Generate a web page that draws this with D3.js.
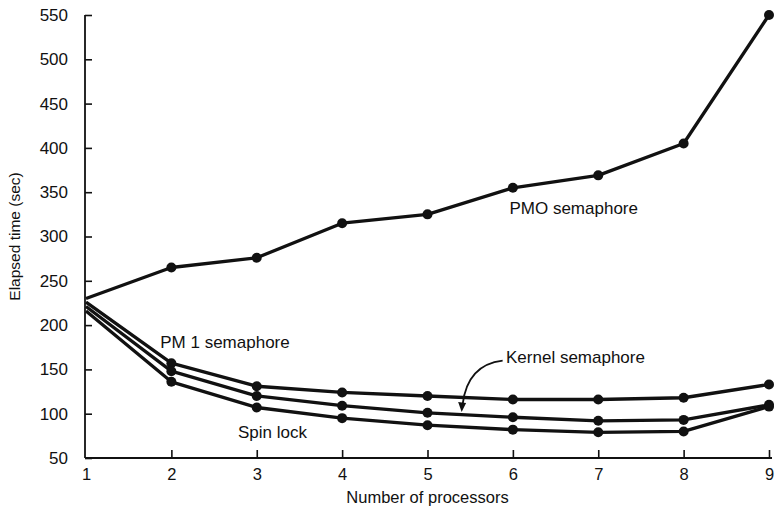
<!DOCTYPE html>
<html>
<head>
<meta charset="utf-8">
<script src="https://cdn.jsdelivr.net/npm/d3@7"></script>
<style>
  body { margin: 0; background: #fff; }
  svg { display: block; }
  text { font-family: "Liberation Sans", Arial, Helvetica, sans-serif; fill: #111; }
</style>
</head>
<body>
<svg id="chart" width="776" height="511"></svg>
<script>
// Number of processors
const processors = [1, 2, 3, 4, 5, 6, 7, 8, 9];

// Elapsed time (sec) for each synchronisation method
const pmoSemaphore    = [230, 265, 276, 315, 325, 355, 369, 405, 550];
const pm1Semaphore    = [226, 157, 131, 124, 120, 116, 116, 118, 133];
const kernelSemaphore = [221, 148, 120, 109, 101,  96,  92,  93, 110];
const spinLock        = [216, 136, 107,  95,  87,  82,  79,  80, 108];

const yTicks = [50, 100, 150, 200, 250, 300, 350, 400, 450, 500, 550];

const seriesList = [
  { name: "PMO semaphore", values: pmoSemaphore },
  { name: "PM 1 semaphore", values: pm1Semaphore },
  { name: "Kernel semaphore", values: kernelSemaphore },
  { name: "Spin lock", values: spinLock }
];

const svg = d3.select("#chart");
const ink = "#111";

const x = d3.scaleLinear().domain([1, 9]).range([86, 769]);
const y = d3.scaleLinear().domain([50, 550]).range([458, 15]);

// Axes: ticks point inward, as in the printed figure
const yAxis = d3.axisLeft(y).tickValues(yTicks).tickSize(-7).tickPadding(17)
  .tickFormat(d3.format("d"));
const xAxis = d3.axisBottom(x).tickValues(processors).tickSize(-8).tickPadding(10)
  .tickFormat(d3.format("d"));

const gy = svg.append("g").attr("transform", "translate(85,0)").call(yAxis);
const gx = svg.append("g").attr("transform", "translate(0,458)").call(xAxis);
[gy, gx].forEach(g => {
  g.selectAll(".domain").remove();
  g.selectAll("line").attr("stroke", ink).attr("stroke-width", 1.6);
  g.selectAll("text").attr("font-size", 17).style("fill", ink);
});
gx.selectAll("text").attr("font-size", 16.5);
gx.selectAll(".tick").filter(d => d === 1).select("line").remove();

// Axis spines
svg.append("line").attr("x1", 85).attr("x2", 85).attr("y1", y(550)).attr("y2", y(50))
  .attr("stroke", ink).attr("stroke-width", 1.8);
svg.append("line").attr("x1", 85).attr("x2", 772).attr("y1", y(50)).attr("y2", y(50))
  .attr("stroke", ink).attr("stroke-width", 1.8);

// Axis titles
svg.append("text")
  .attr("transform", `translate(20,${(y(550) + y(50)) / 2}) rotate(-90)`)
  .attr("text-anchor", "middle").attr("font-size", 15.5)
  .text("Elapsed time (sec)");
svg.append("text")
  .attr("x", (x(1) + x(9)) / 2).attr("y", 503)
  .attr("text-anchor", "middle").attr("font-size", 16.5)
  .text("Number of processors");

// Series lines and markers
const line = d3.line().x((d, i) => x(processors[i])).y(d => y(d));
const gSeries = svg.append("g");
seriesList.forEach(s => {
  gSeries.append("path").datum(s.values)
    .attr("d", line).attr("fill", "none")
    .attr("stroke", ink).attr("stroke-width", 3.3).attr("stroke-linejoin", "round");
  gSeries.selectAll(null).data(s.values.slice(1)).join("circle")
    .attr("cx", (d, i) => x(processors[i + 1]))
    .attr("cy", d => y(d))
    .attr("r", 5).attr("fill", ink);
});

// Series labels
const labels = [
  { text: "PMO semaphore", px: 5.96, v: 325 },
  { text: "PM 1 semaphore", px: 1.87, v: 174 },
  { text: "Kernel semaphore", px: 5.92, v: 157 },
  { text: "Spin lock", px: 2.78, v: 73 }
];
svg.selectAll(null).data(labels).join("text")
  .attr("x", d => x(d.px)).attr("y", d => y(d.v))
  .attr("font-size", 17).text(d => d.text);

// Leader arrow for the kernel semaphore curve
const arrowStart = [x(5.88), y(160)];
const arrowEnd = [x(5.4), y(103)];
svg.append("path")
  .attr("d", `M${arrowStart[0]},${arrowStart[1]} Q${arrowEnd[0] + 6},${arrowStart[1] + 4} ${arrowEnd[0] + 1},${arrowEnd[1] - 7}`)
  .attr("fill", "none").attr("stroke", ink).attr("stroke-width", 1.8);
svg.append("path")
  .attr("d", `M${arrowEnd[0] - 3.5},${arrowEnd[1] - 9} L${arrowEnd[0]},${arrowEnd[1] + 1} L${arrowEnd[0] + 4.5},${arrowEnd[1] - 8} Z`)
  .attr("fill", ink);
</script>
</body>
</html>
